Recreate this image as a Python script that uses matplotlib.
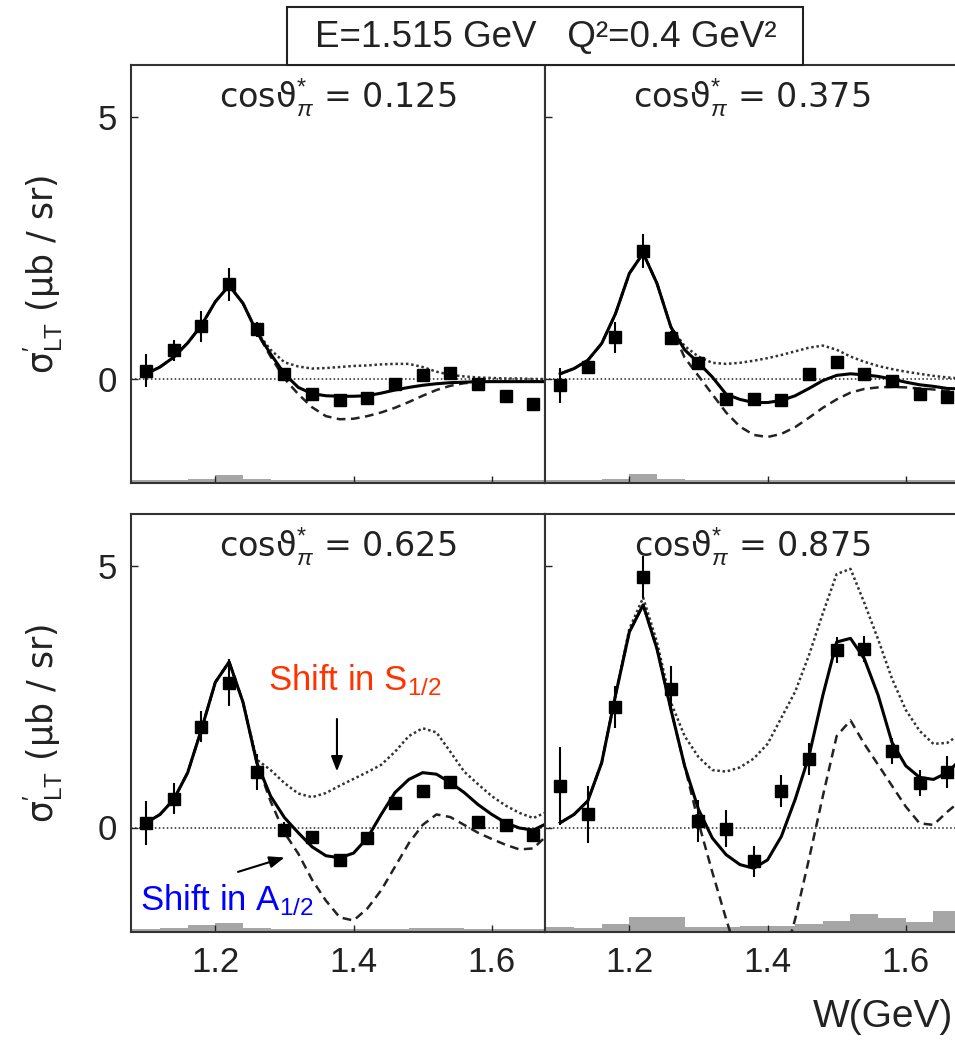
import numpy as np
import matplotlib
matplotlib.use("Agg")
import matplotlib.pyplot as plt
from matplotlib.patches import Rectangle

plt.rcParams["font.family"] = ["Liberation Sans", "DejaVu Sans"]
plt.rcParams["mathtext.fontset"] = "custom"
plt.rcParams["mathtext.rm"] = "Liberation Sans"
plt.rcParams["mathtext.it"] = "Liberation Sans:italic"
plt.rcParams["mathtext.bf"] = "Liberation Sans:bold"
plt.rcParams["mathtext.sf"] = "Liberation Sans"
plt.rcParams["mathtext.fallback"] = "stixsans"

# ---- data points (W bins) ----
W_pts = [1.10, 1.14, 1.18, 1.22, 1.26, 1.30, 1.34, 1.38, 1.42, 1.46, 1.50, 1.54, 1.58, 1.62, 1.66]

cos_labels = ["0.125", "0.375", "0.625", "0.875"]

pts_0125 = [0.15, 0.54, 1.00, 1.80, 0.94, 0.09, -0.29, -0.41, -0.38, -0.10, 0.07, 0.11, -0.10, -0.33, -0.49]
err_0125 = [0.32, 0.20, 0.30, 0.32, 0.15, 0.08, 0.08, 0.08, 0.08, 0.08, 0.08, 0.08, 0.08, 0.08, 0.08]
pts_0375 = [-0.13, 0.22, 0.79, 2.44, 0.78, 0.29, -0.39, -0.40, -0.42, 0.09, 0.31, 0.09, -0.04, -0.29, -0.35]
err_0375 = [0.33, 0.14, 0.30, 0.32, 0.12, 0.10, 0.08, 0.08, 0.08, 0.08, 0.08, 0.08, 0.08, 0.08, 0.08]
pts_0625 = [0.09, 0.55, 1.93, 2.77, 1.06, -0.04, -0.19, -0.62, -0.20, 0.46, 0.70, 0.88, 0.11, 0.04, -0.15]
err_0625 = [0.42, 0.30, 0.30, 0.45, 0.35, 0.15, 0.10, 0.10, 0.10, 0.10, 0.10, 0.10, 0.10, 0.10, 0.10]
pts_0875 = [0.79, 0.25, 2.30, 4.80, 2.65, 0.12, -0.02, -0.65, 0.70, 1.31, 3.39, 3.42, 1.47, 0.86, 1.06]
err_0875 = [0.75, 0.55, 0.40, 0.40, 0.45, 0.40, 0.35, 0.30, 0.30, 0.30, 0.25, 0.25, 0.25, 0.25, 0.30]

# systematic error bands (grey histogram above the lower edge)
sys_0125 = [0.06, 0.06, 0.08, 0.15, 0.08, 0.05, 0.05, 0.06, 0.06, 0.05, 0.05, 0.06, 0.06, 0.05, 0.05]
sys_0375 = [0.05, 0.06, 0.08, 0.18, 0.08, 0.05, 0.06, 0.06, 0.06, 0.05, 0.05, 0.06, 0.05, 0.05, 0.05]
sys_0625 = [0.06, 0.08, 0.14, 0.18, 0.08, 0.06, 0.06, 0.05, 0.06, 0.06, 0.08, 0.08, 0.06, 0.06, 0.06]
sys_0875 = [0.10, 0.07, 0.16, 0.29, 0.29, 0.10, 0.10, 0.11, 0.11, 0.16, 0.22, 0.35, 0.27, 0.19, 0.40]

# ---- model curves ----
W_curve = [1.10, 1.12, 1.14, 1.16, 1.18, 1.20, 1.22, 1.24, 1.26, 1.28,
           1.30, 1.32, 1.34, 1.36, 1.38, 1.40, 1.42, 1.44, 1.46, 1.48,
           1.50, 1.52, 1.54, 1.56, 1.58, 1.60, 1.62, 1.64, 1.66, 1.68]

fit_0125 = [0.09, 0.22, 0.41, 0.68, 1.02, 1.47, 1.78, 1.44, 0.89, 0.47,
            0.09, -0.17, -0.29, -0.33, -0.34, -0.34, -0.33, -0.28, -0.22, -0.17,
            -0.13, -0.10, -0.08, -0.07, -0.06, -0.06, -0.06, -0.06, -0.06, -0.06]
s12_0125 = [0.09, 0.22, 0.41, 0.68, 1.02, 1.47, 1.78, 1.44, 0.89, 0.55,
            0.31, 0.23, 0.19, 0.20, 0.22, 0.24, 0.25, 0.27, 0.28, 0.28,
            0.22, 0.13, 0.07, 0.04, 0.02, 0.01, 0.00, 0.00, -0.01, -0.01]
a12_0125 = [0.09, 0.22, 0.41, 0.68, 1.02, 1.47, 1.78, 1.44, 0.89, 0.42,
            0.00, -0.30, -0.55, -0.72, -0.78, -0.77, -0.72, -0.65, -0.56, -0.45,
            -0.33, -0.22, -0.14, -0.09, -0.07, -0.06, -0.06, -0.06, -0.06, -0.06]

fit_0375 = [0.09, 0.19, 0.35, 0.67, 1.24, 2.01, 2.40, 1.82, 0.99, 0.55,
            0.30, 0.03, -0.30, -0.40, -0.46, -0.46, -0.42, -0.33, -0.19, -0.04,
            0.06, 0.09, 0.07, 0.04, -0.01, -0.07, -0.12, -0.15, -0.19, -0.20]
s12_0375 = [0.09, 0.19, 0.35, 0.67, 1.24, 2.01, 2.40, 1.82, 0.99, 0.62,
            0.42, 0.30, 0.28, 0.30, 0.34, 0.39, 0.45, 0.52, 0.59, 0.63,
            0.55, 0.42, 0.32, 0.24, 0.18, 0.13, 0.09, 0.05, 0.02, 0.00]
a12_0375 = [0.09, 0.19, 0.35, 0.67, 1.24, 2.01, 2.40, 1.82, 0.99, 0.40,
            0.05, -0.30, -0.65, -0.92, -1.08, -1.12, -1.06, -0.93, -0.75, -0.56,
            -0.40, -0.27, -0.20, -0.17, -0.16, -0.17, -0.19, -0.21, -0.24, -0.26]

fit_0625 = [0.09, 0.25, 0.54, 1.05, 1.88, 2.78, 3.17, 2.40, 1.24, 0.60,
            0.19, -0.10, -0.37, -0.54, -0.58, -0.49, -0.20, 0.25, 0.67, 0.92,
            1.05, 1.02, 0.86, 0.67, 0.44, 0.25, 0.09, -0.01, -0.05, 0.08]
s12_0625 = [0.09, 0.25, 0.54, 1.05, 1.88, 2.78, 3.17, 2.40, 1.30, 1.10,
            0.85, 0.65, 0.58, 0.66, 0.80, 0.93, 1.06, 1.20, 1.45, 1.75,
            1.90, 1.82, 1.45, 1.07, 0.83, 0.60, 0.42, 0.28, 0.18, 0.30]
a12_0625 = [0.09, 0.25, 0.54, 1.05, 1.88, 2.78, 3.17, 2.40, 1.24, 0.50,
            -0.10, -0.50, -1.00, -1.40, -1.72, -1.78, -1.55, -1.20, -0.75, -0.30,
            0.05, 0.25, 0.20, 0.05, -0.10, -0.22, -0.33, -0.42, -0.40, -0.15]

fit_0875 = [0.09, 0.25, 0.51, 1.24, 2.53, 3.74, 4.26, 3.42, 2.27, 1.18,
            0.35, -0.20, -0.52, -0.71, -0.78, -0.62, -0.17, 0.54, 1.37, 2.53,
            3.55, 3.62, 3.23, 2.53, 1.63, 1.18, 0.96, 0.92, 1.05, 1.31]
s12_0875 = [0.09, 0.25, 0.51, 1.24, 2.53, 3.80, 4.40, 3.55, 2.40, 1.75,
            1.35, 1.10, 1.07, 1.15, 1.32, 1.60, 2.10, 2.60, 3.30, 4.10,
            4.85, 4.95, 4.30, 3.60, 2.85, 2.25, 1.85, 1.60, 1.62, 1.80]
a12_0875 = [0.09, 0.25, 0.51, 1.24, 2.53, 3.74, 4.26, 3.42, 2.27, 1.18,
            0.10, -0.85, -1.75, -2.60, -3.20, -3.30, -2.70, -1.75, -0.60, 0.60,
            1.75, 2.05, 1.60, 1.20, 0.80, 0.40, 0.08, 0.05, 0.30, 0.52]

panels = [
    (pts_0125, err_0125, sys_0125, fit_0125, s12_0125, a12_0125),
    (pts_0375, err_0375, sys_0375, fit_0375, s12_0375, a12_0375),
    (pts_0625, err_0625, sys_0625, fit_0625, s12_0625, a12_0625),
    (pts_0875, err_0875, sys_0875, fit_0875, s12_0875, a12_0875),
]

W, H = 955, 1046
fig = plt.figure(figsize=(W / 100, H / 100), dpi=100)

# panel geometry (pixels -> figure fraction)
ax_w = 414 / W
ax_h = 418 / H
lefts = [131 / W, 545 / W]
bottoms = [1 - 483 / H, 1 - 932 / H]

axes = []
for i, (pts, err, syst, fit, s12, a12) in enumerate(panels):
    row, col = divmod(i, 2)
    ax = fig.add_axes([lefts[col], bottoms[row], ax_w, ax_h])
    axes.append(ax)
    ax.set_xlim(1.078, 1.677)
    ax.set_ylim(-2, 6)

    ax.bar(W_pts, syst, width=0.04, bottom=-2, color="#a6a6a6", lw=0, zorder=1)
    ax.axhline(0, color="#222222", lw=1.1, ls=(0, (1, 1.6)), zorder=2)

    ax.plot(W_curve, s12, color="#333333", lw=1.8, ls=(0, (1, 1.1)), zorder=3)
    ax.plot(W_curve, a12, color="#222222", lw=1.8, ls=(0, (3.5, 2.2)), zorder=3)
    ax.plot(W_curve, fit, color="black", lw=2.2, zorder=4)
    ax.errorbar(W_pts, pts, yerr=err, fmt="s", ms=9, color="black",
                elinewidth=1.5, capsize=0, zorder=5)

    ax.text(0.5, 0.921, r"cosϑ$^{*}_{\pi}$ = " + cos_labels[i], transform=ax.transAxes,
            ha="center", va="center", fontsize=24, family=["DejaVu Sans"], color="#222222",
            zorder=6)

    ax.set_xticks([1.2, 1.4, 1.6])
    ax.set_yticks([0, 5])
    ax.tick_params(direction="in", length=5, width=1, labelsize=25, pad=10,
                   colors="#222222")
    if col == 1:
        ax.tick_params(labelleft=False)
    else:
        ax.set_ylabel(r"σ$_{\mathrm{LT}}^{\prime}$ (μb / sr)", fontsize=25,
                      family=["DejaVu Sans"], color="#222222")
        ax.yaxis.set_label_coords(-0.16, 0.5)
    if row == 0:
        ax.tick_params(labelbottom=False)
    for sp in ax.spines.values():
        sp.set_color("#333333")
        sp.set_linewidth(1.5)

# annotations in the cos = 0.625 panel
ax = axes[2]
ax.text(1.2766, 2.62, r"Shift in S$_{1/2}$", color="#ff3300", fontsize=25,
        va="baseline", ha="left", zorder=7)
ax.annotate("", xy=(1.376, 1.02), xytext=(1.376, 2.13),
            arrowprops=dict(arrowstyle="-|>,head_length=0.9,head_width=0.35",
                            color="black", lw=1.5), zorder=7)
ax.text(1.0915, -1.58, r"Shift in A$_{1/2}$", color="#0000ff", fontsize=25,
        va="baseline", ha="left", zorder=7, clip_on=False)
ax.annotate("", xy=(1.304, -0.558), xytext=(1.229, -0.865),
            arrowprops=dict(arrowstyle="-|>,head_length=0.9,head_width=0.35",
                            color="black", lw=1.5), zorder=7)

# header box
fig.patches.append(Rectangle((287 / W, 1 - 65 / H), 516 / W, 58 / H,
                             transform=fig.transFigure, facecolor="white",
                             edgecolor="#222222", lw=1.5))
fig.text(546 / W, 1 - 37 / H, "E=1.515 GeV   Q²=0.4 GeV²", ha="center", va="center",
         fontsize=26.5, color="#222222")

fig.text(0.998, 1 - 1017 / H, "W(GeV)", ha="right", va="center", fontsize=28,
         color="#222222")

fig.savefig("out.png", dpi=100, facecolor="white")
